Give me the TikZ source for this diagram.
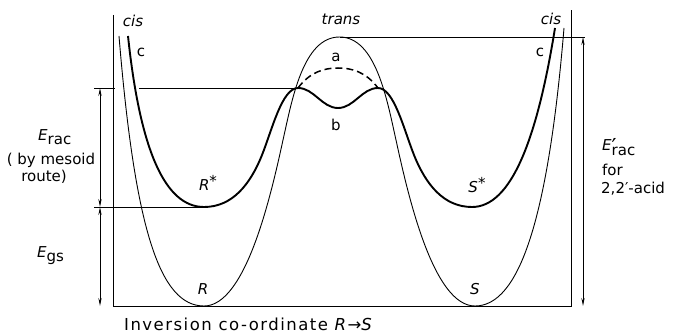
\documentclass[tikz,border=0pt]{standalone}
\usepackage{fontspec}
\setmainfont{DejaVu Sans}
\newfontfamily\widefont[LetterSpace=9]{DejaVu Sans}
\usetikzlibrary{arrows.meta}

\begin{document}
\begin{tikzpicture}[
            x=1pt, y=-1pt, >={Stealth[length=8pt,width=3.2pt]},
            thincurve/.style={line width=0.9pt},
            thickcurve/.style={line width=1.9pt},
            guide/.style={line width=0.7pt},
            dim/.style={line width=0.9pt, <->},
            lbl/.style={font=\fontsize{15}{17}\selectfont, inner sep=0pt},
            tag/.style={font=\fontsize{15}{17}\selectfont\itshape, inner sep=0pt}
        ]
            \useasboundingbox (0,0) rectangle (677,334);

            % Axes
            \coordinate (axtop) at (113,15);
            \coordinate (origin) at (113,306);
            \coordinate (axend) at (571,306);
            \coordinate (axrtop) at (571,10);
            \draw[guide] (axtop) -- (origin) -- (axend) -- (axrtop);

            % Key points of the curves
            \coordinate (Rmin) at (204,306);
            \coordinate (Smin) at (475,306);
            \coordinate (Rsmin) at (204,207);
            \coordinate (Ssmin) at (472,207);
            \coordinate (apeak) at (339.5,37);
            \coordinate (bleft) at (298,88);
            \coordinate (bdip) at (338,108);
            \coordinate (bright) at (378,88);

            % Ground state curve (a)
            \draw[thincurve] (119,36) .. controls (135,230) and (160,306) .. (Rmin)
                .. controls (245,306) and (270,200) .. (283,140)
                .. controls (292,100) and (303,37) .. (apeak)
                .. controls (376,37) and (387,100) .. (396,140)
                .. controls (409,200) and (434,306) .. (Smin)
                .. controls (519,306) and (548,220) .. (564,28);

            % Mesoid curve (b)
            \draw[thickcurve] (128,36) .. controls (140,150) and (165,207) .. (Rsmin)
                .. controls (232,207) and (250,185) .. (262,155)
                .. controls (272,130) and (282,88) .. (bleft)
                .. controls (314,88) and (322,108) .. (bdip)
                .. controls (354,108) and (362,88) .. (bright)
                .. controls (394,88) and (404,130) .. (414,155)
                .. controls (426,185) and (444,207) .. (Ssmin)
                .. controls (511,207) and (537,140) .. (555,28);
            \draw[line width=1.5pt, dash pattern=on 7pt off 4pt] (bleft)
                .. controls (310,72) and (324,68) .. (338,68)
                .. controls (352,68) and (366,72) .. (bright);

            % Levels
            \coordinate (racL) at (94,88);
            \coordinate (racAx) at (115,88);
            \coordinate (racC) at (139,88);
            \coordinate (gsL) at (94,207);
            \coordinate (topR) at (585,37);
            \draw[guide] (racL) -- (racAx);
            \draw[guide] (racC) -- (bleft);
            \draw[guide] (gsL) -- (Rsmin);
            \draw[guide] (apeak) -- (topR);

            % Energy arrows
            \coordinate (racTop) at (100,88);
            \coordinate (racMid) at (100,207);
            \coordinate (racBot) at (100,306);
            \coordinate (accTop) at (583,37);
            \coordinate (accBot) at (583,306);
            \draw[dim] (racTop) -- (racMid);
            \draw[dim] (racMid) -- (racBot);
            \draw[dim] (accTop) -- (accBot);

            % Labels
            \node[tag] (cisL) at (133,21) {cis};
            \node[tag] (trans) at (341,19) {trans};
            \node[tag] (cisR) at (551,19) {cis};
            \node[lbl] (cL) at (141,52) {c};
            \node[lbl] (cR) at (540,52) {c};
            \node[lbl] (alab) at (336,57) {a};
            \node[lbl] (blab) at (336,125) {b};
            \node[lbl] (Rs) at (208,183) {\textit{R}\raisebox{0.4ex}{*}};
            \node[lbl] (Ss) at (477,185) {\textit{S}\raisebox{0.4ex}{*}};
            \node[lbl] (R) at (203,289) {\textit{R}};
            \node[lbl] (S) at (475,289) {\textit{S}};
            \node[lbl, anchor=west] (Erac) at (38,137) {\textit{E}\lower4pt\hbox{rac}};
            \node[lbl] (by) at (51,160) {( by mesoid};
            \node[lbl] (route) at (44,177) {route)};
            \node[lbl, anchor=west] (Egs) at (37,256) {\textit{E}\lower4pt\hbox{gs}};
            \node[lbl, anchor=base west] (Eacid) at (602,150) {\textit{E}\rlap{\raisebox{-4pt}{\fontsize{22}{22}\selectfont ′}}\lower5pt\hbox{rac}};
            \node[lbl, anchor=west] (for) at (602,170) {for};
            \node[lbl, anchor=west] (acid) at (601,189) {2,2′-acid};
            \node[lbl, font=\fontsize{16.5}{18}\widefont, anchor=base west] (xaxis) at (124,330) {Inversion co-ordinate \textit{R}→\textit{S}};
        \end{tikzpicture}
\end{document}
